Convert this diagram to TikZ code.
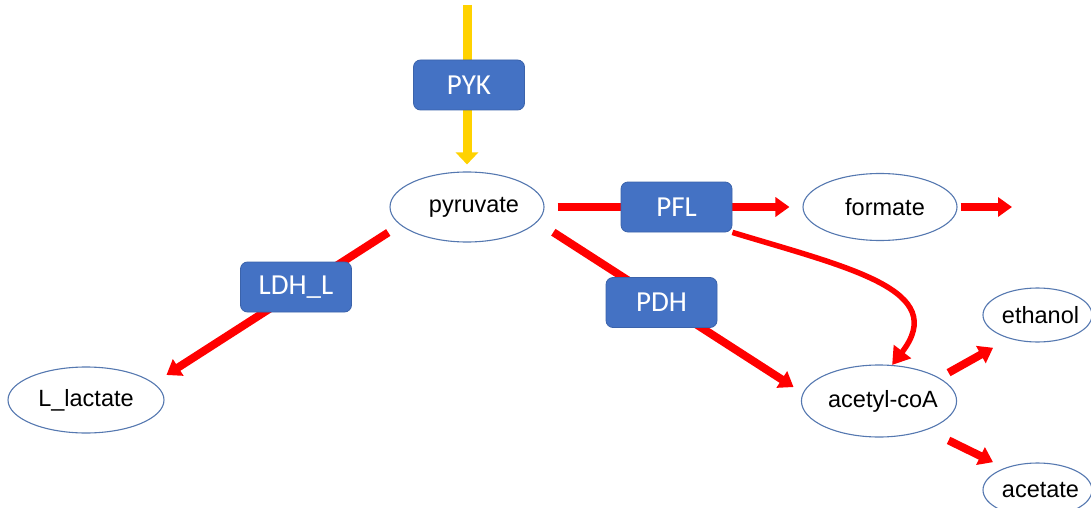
\documentclass[tikz,border=0pt]{standalone}
\usepackage{fontspec}
\setmainfont{Liberation Sans}
\newfontfamily\enzfont{Carlito}
\usetikzlibrary{shapes.geometric,arrows.meta}
\pgfdeclarelayer{bg}
\pgfsetlayers{bg,main}
\definecolor{ellline}{HTML}{5578B0}
\definecolor{enzfill}{HTML}{4472C4}
\definecolor{enzline}{HTML}{3B63AB}
\definecolor{pykcol}{HTML}{FFD200}
\definecolor{fluxcol}{HTML}{FF0000}
\newcommand{\shiftr}[2]{\hspace*{#1}#2\hspace*{-#1}}

\begin{document}
\begin{tikzpicture}[x=1pt,y=-1pt,
  met/.style={ellipse, draw=ellline, line width=1.1pt, fill=white, inner sep=0pt,
    font=\fontsize{23.5}{27}\selectfont},
  enz/.style={rectangle, rounded corners=7pt, fill=enzfill, draw=enzline, line width=0.8pt,
    minimum width=111pt, minimum height=50pt, inner sep=0pt, text=white,
    font=\enzfont\fontsize{29}{33}\selectfont},
  fluxarrow/.style={draw=fluxcol, line width=8pt, -{Triangle[length=14pt,width=19pt]}},
  curvearrow/.style={draw=fluxcol, line width=5.5pt, -{Triangle[length=17pt,width=21pt]}},
  pykarrow/.style={draw=pykcol, line width=9pt, -{Triangle[length=12pt,width=22pt]}},
]
\useasboundingbox (0,0) rectangle (1091,508);

% metabolites
\node[met, minimum width=154pt, minimum height=70pt] (pyr) at (467,207) {\shiftr{7pt}{pyruvate}};
\node[met, minimum width=154pt, minimum height=67pt] (form) at (880,207) {\shiftr{5pt}{formate}};
\node[met, minimum width=156pt, minimum height=66pt] (lac) at (86,400) {L\_lactate};
\node[met, minimum width=152pt, minimum height=72pt] (acc) at (879,401) {\shiftr{4pt}{acetyl-coA}};
\node[met, minimum width=104pt, minimum height=54pt] (eth) at (1037.5,315) {\shiftr{3pt}{ethanol}};
\node[met, minimum width=104pt, minimum height=54pt] (ace) at (1037.5,490) {\shiftr{3pt}{acetate}};

% enzymes
\node[enz] (pyk) at (469,85) {PYK};
\node[enz] (pfl) at (676.5,207) {PFL};
\node[enz] (ldh) at (296,287) {LDH\_L};
\node[enz] (pdh) at (661.5,302.5) {PDH};

\coordinate (src) at (467,5);
\coordinate (sink) at (1012,207);

\begin{pgfonlayer}{bg}
  \draw[pykarrow, shorten >=7pt] (src) -- (pyr.north);
  \draw[fluxarrow, shorten <=13pt, shorten >=13pt] (pyr.east) -- (form.west);
  \draw[fluxarrow, shorten <=3pt] (form.east) -- (sink);
  \draw[fluxarrow, shorten <=14pt, shorten >=15pt] (pyr.195.5) -- (lac.14);
  \draw[fluxarrow, shorten <=19pt, shorten >=11pt] (pyr.-12) -- (acc.174);
  \draw[fluxarrow, shorten <=10.5pt, shorten >=18.6pt] (acc.21) -- (eth.220);
  \draw[fluxarrow, shorten <=24pt, shorten >=13pt] (acc.-31.5) -- (ace.146);
  \draw[curvearrow] (pfl.south east) .. controls (850,268) and (950,290) .. (acc.70);
\end{pgfonlayer}
\end{tikzpicture}
\end{document}
